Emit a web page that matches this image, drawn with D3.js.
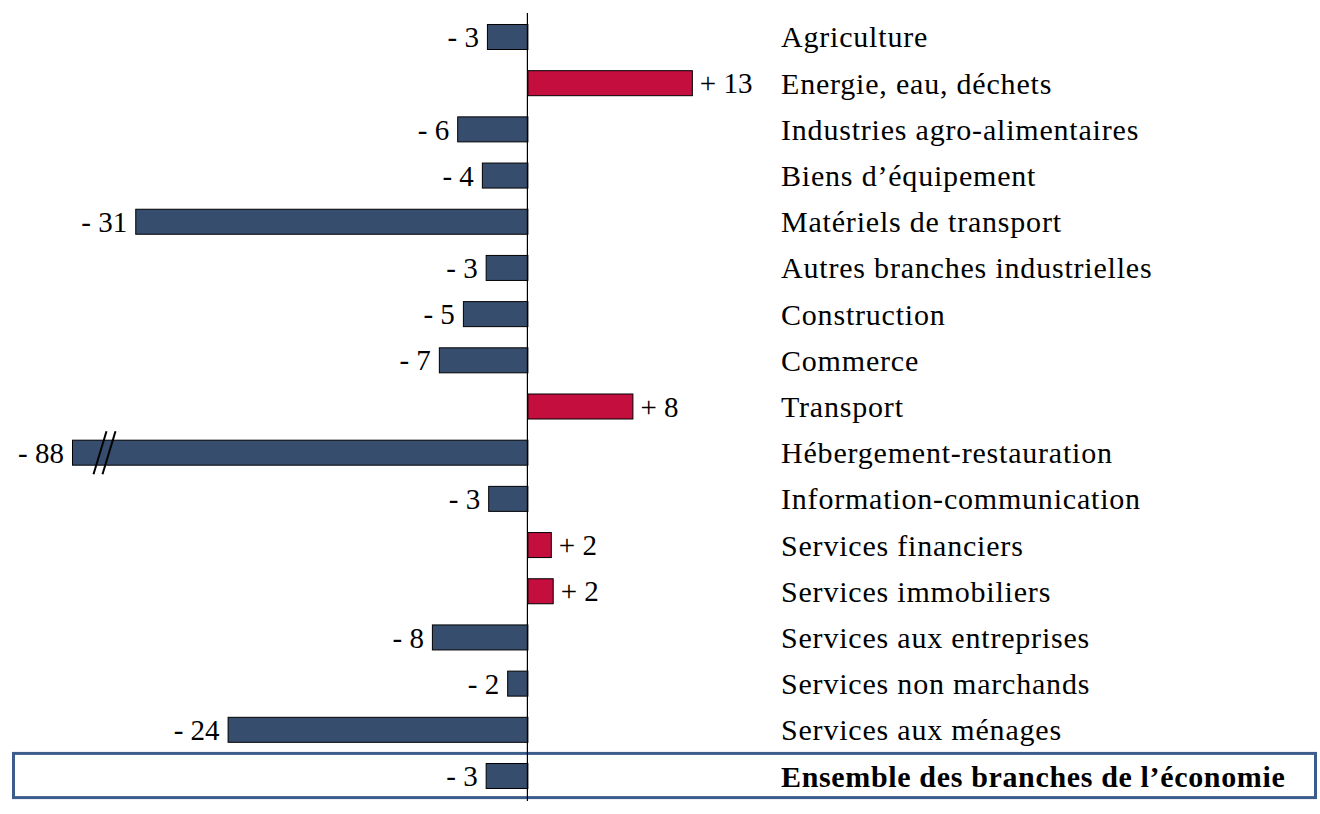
<!DOCTYPE html>
<html>
<head>
<meta charset="utf-8">
<script src="https://cdn.jsdelivr.net/npm/d3@7"></script>
<style>
  html, body { margin: 0; padding: 0; background: #fff; }
  svg { display: block; }
  text { font-family: "Liberation Serif", "Times New Roman", serif; }
</style>
</head>
<body>
<svg id="chart" width="1320" height="814"></svg>
<script>
// ---- data ----
const categories = [
  "Agriculture",
  "Energie, eau, déchets",
  "Industries agro-alimentaires",
  "Biens d’équipement",
  "Matériels de transport",
  "Autres branches industrielles",
  "Construction",
  "Commerce",
  "Transport",
  "Hébergement-restauration",
  "Information-communication",
  "Services financiers",
  "Services immobiliers",
  "Services aux entreprises",
  "Services non marchands",
  "Services aux ménages",
  "Ensemble des branches de l’économie"
];
const values = [-3.2, 13.0, -5.55, -3.6, -31.0, -3.3, -5.1, -7.0, 8.3, -88, -3.1, 1.85, 2.0, -7.55, -1.6, -23.7, -3.3];
const totalCategory = "Ensemble des branches de l’économie";
const axisMin = -36;   // bars beyond this are drawn broken
const axisMax = 13;

// ---- layout ----
const W = 1320, H = 814;
const svg = d3.select("#chart");
const navy = "#374d6e", crimson = "#c40e3e", boxBlue = "#3c5d8b";
const labelSize = 30, numSize = 29;

const x = d3.scaleLinear().domain([axisMin, axisMax]).range([72, 691.85]);
const y = d3.scaleBand().domain(categories).range([13.9, 799.1])
  .paddingInner(0.437).paddingOuter(0.2185);
const step = y.step(), bw = y.bandwidth();

const data = categories.map((c, i) => ({ cat: c, v: values[i] }));

// highlight box for total
const yTot = y(totalCategory) - (step - bw) / 2;
svg.append("rect")
  .attr("x", 13.5).attr("y", yTot + 0.5)
  .attr("width", 1302).attr("height", step - 2)
  .attr("fill", "none").attr("stroke", boxBlue).attr("stroke-width", 3);

// bars
const shown = v => Math.max(v, axisMin);
svg.append("g").selectAll("rect").data(data).join("rect")
  .attr("x", d => x(Math.min(0, shown(d.v))) + 0.5)
  .attr("y", d => y(d.cat) + 0.5)
  .attr("width", d => Math.abs(x(shown(d.v)) - x(0)))
  .attr("height", bw - 1)
  .attr("fill", d => d.v < 0 ? navy : crimson)
  .attr("stroke", "#000").attr("stroke-width", 1);

// zero axis
svg.append("line")
  .attr("x1", x(0)).attr("x2", x(0))
  .attr("y1", 13).attr("y2", 801)
  .attr("stroke", "#000").attr("stroke-width", 1.2);

// break marks on truncated bars
const broken = data.filter(d => d.v < axisMin);
broken.forEach(d => {
  const cy = y(d.cat) + bw / 2;
  const bx = x(axisMin);
  [28, 37].forEach(off => {
    svg.append("line")
      .attr("x1", bx + off + 6.5).attr("y1", cy - 21.5)
      .attr("x2", bx + off - 6.5).attr("y2", cy + 21.5)
      .attr("stroke", "#000").attr("stroke-width", 2);
  });
});

// value labels
const fmt = v => (v < 0 ? "- " : "+ ") + Math.round(Math.abs(v));
svg.append("g").selectAll("text").data(data).join("text")
  .attr("x", d => d.v < 0 ? x(shown(d.v)) - 8 : x(d.v) + 8)
  .attr("y", d => y(d.cat) + bw / 2)
  .attr("dy", "0.35em")
  .attr("text-anchor", d => d.v < 0 ? "end" : "start")
  .attr("font-size", numSize)
  .attr("fill", "#000")
  .text(d => fmt(d.v));

// category labels
svg.append("g").selectAll("text").data(data).join("text")
  .attr("x", 781)
  .attr("y", d => y(d.cat) + bw / 2)
  .attr("dy", "0.35em")
  .attr("font-size", labelSize)
  .attr("letter-spacing", d => d.cat === totalCategory ? 0.65 : 0.8)
  .attr("font-weight", d => d.cat === totalCategory ? "bold" : "normal")
  .attr("fill", "#000")
  .text(d => d.cat);
</script>
</body>
</html>
